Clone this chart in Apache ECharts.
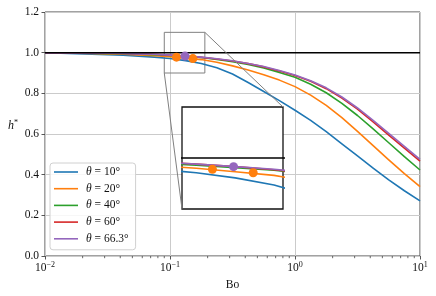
<!DOCTYPE html>
<html><head><meta charset="utf-8">
<script src="https://cdn.jsdelivr.net/npm/echarts@6/dist/echarts.min.js"></script>
<style>html,body{margin:0;padding:0;background:#fff}#c{width:436px;height:296px}</style>
</head><body><div id="c"></div>
<script>
const boValues = [0.01, 0.01334, 0.01778, 0.02371, 0.03162, 0.04217, 0.05623, 0.07499,
                  0.1, 0.1334, 0.1778, 0.2371, 0.3162, 0.4217, 0.5623, 0.7499,
                  1, 1.334, 1.778, 2.371, 3.162, 4.217, 5.623, 7.499, 10];
const h10 = [0.998, 0.997, 0.995, 0.993, 0.990, 0.987, 0.983, 0.978,
             0.971, 0.961, 0.947, 0.926, 0.895, 0.853, 0.809, 0.764,
             0.717, 0.667, 0.612, 0.552, 0.492, 0.432, 0.374, 0.321, 0.271];
const h20 = [0.998, 0.998, 0.997, 0.996, 0.994, 0.992, 0.989, 0.985,
             0.980, 0.973, 0.966, 0.953, 0.935, 0.915, 0.891, 0.865,
             0.833, 0.791, 0.741, 0.681, 0.613, 0.543, 0.473, 0.405, 0.341];
const h40 = [0.999, 0.999, 0.998, 0.997, 0.996, 0.995, 0.993, 0.990,
             0.986, 0.981, 0.976, 0.967, 0.956, 0.942, 0.925, 0.903,
             0.879, 0.845, 0.803, 0.751, 0.691, 0.625, 0.557, 0.489, 0.423];
const h60 = [0.999, 0.999, 0.998, 0.998, 0.997, 0.996, 0.994, 0.992,
             0.988, 0.983, 0.977, 0.969, 0.959, 0.946, 0.930, 0.910,
             0.888, 0.859, 0.823, 0.777, 0.722, 0.660, 0.595, 0.531, 0.467];
const h66 = [0.999, 0.999, 0.998, 0.998, 0.997, 0.996, 0.994, 0.992,
             0.988, 0.983, 0.978, 0.970, 0.960, 0.947, 0.932, 0.912,
             0.890, 0.862, 0.827, 0.782, 0.728, 0.667, 0.603, 0.539, 0.475];
const seriesNames = ['θ = 10°', 'θ = 20°', 'θ = 40°', 'θ = 60°', 'θ = 66.3°'];
const seriesValues = [h10, h20, h40, h60, h66];
const colors = ['#1f77b4', '#ff7f0e', '#2ca02c', '#d62728', '#9467bd'];
const refLineBo = [0.01, 10];
const refLineH = [1.0, 1.0];
const markerOrangeBo = [0.1127, 0.1524];
const markerOrangeH = [0.978, 0.971];
const markerPurpleBo = [0.1318];
const markerPurpleH = [0.983];
const minorTickBo = [0.02,0.03,0.04,0.05,0.06,0.07,0.08,0.09, 0.2,0.3,0.4,0.5,0.6,0.7,0.8,0.9, 2,3,4,5,6,7,8,9];
const yTickLabels = ['0.0','0.2','0.4','0.6','0.8','1.0','1.2'];
const insetBo = [0.09, 0.19];
const insetH = [0.9, 1.1];

const FONT = 'Liberation Serif';
const zip = (xs, ys) => xs.map((x, i) => [x, ys[i]]);

const chart = echarts.init(document.getElementById('c'), null, {renderer: 'canvas'});

function curveSeries(gi, z) {
  return seriesValues.map((vals, i) => ({
    type: 'line', name: seriesNames[i], xAxisIndex: gi, yAxisIndex: gi,
    data: zip(boValues, vals), smooth: false,
    symbol: 'none', showSymbol: false, clip: true, z: z,
    lineStyle: {color: colors[i], width: 1.6, join: 'round'}, itemStyle: {color: colors[i]}
  }));
}
function extraSeries(gi, z) {
  return [
    {type: 'line', xAxisIndex: gi, yAxisIndex: gi, data: zip(refLineBo, refLineH), symbol: 'none',
     lineStyle: {color: '#000', width: 1.5}, z: z, silent: true},
    {type: 'scatter', xAxisIndex: gi, yAxisIndex: gi, data: zip(markerOrangeBo, markerOrangeH),
     symbolSize: 9, itemStyle: {color: colors[1], opacity: 1}, z: z + 1, silent: true},
    {type: 'scatter', xAxisIndex: gi, yAxisIndex: gi, data: zip(markerPurpleBo, markerPurpleH),
     symbolSize: 9, itemStyle: {color: colors[4], opacity: 1}, z: z + 1, silent: true}
  ];
}

const series = [].concat(curveSeries(0, 2), extraSeries(0, 2));
series.push({type: 'line', xAxisIndex: 0, yAxisIndex: 0, data: [], z: 4, silent: true,
  markArea: {silent: true, itemStyle: {color: 'rgba(0,0,0,0)', borderColor: '#808080', borderWidth: 1},
    data: [[{coord: [insetBo[0], insetH[1]]}, {coord: [insetBo[1], insetH[0]]}]]}});
series.push({type: 'custom', xAxisIndex: 0, yAxisIndex: 0, data: minorTickBo.map(v => [v, 0]), clip: false, silent: true, z: 3,
  renderItem: (p, api) => {
    const pt = api.coord([api.value(0), api.value(1)]);
    return {type: 'line', shape: {x1: pt[0], y1: pt[1], x2: pt[0], y2: pt[1] + 2.2}, style: {stroke: '#444', lineWidth: 0.8}};
  }});
[].concat(curveSeries(1, 8), extraSeries(1, 8)).forEach(s => series.push(s));

const option = {
  animation: false,
  backgroundColor: '#fff',
  textStyle: {fontFamily: FONT},
  grid: [
    {left: 45, top: 12, width: 375, height: 244, show: true, borderColor: '#444', borderWidth: 1, backgroundColor: 'rgba(0,0,0,0)'},
    {left: 182, top: 107, width: 101, height: 102, show: true, borderColor: '#111', borderWidth: 1.3, backgroundColor: '#fff', z: 6}
  ],
  xAxis: [
    {type: 'log', logBase: 10, min: 0.01, max: 10, gridIndex: 0,
     name: 'Bo', nameLocation: 'middle', nameGap: 18,
     nameTextStyle: {fontFamily: FONT, fontSize: 11.5, color: '#111'},
     axisLine: {show: false},
     axisTick: {show: true, inside: false, length: 3.5, lineStyle: {color: '#444', width: 0.9}},
     splitLine: {show: true, lineStyle: {color: '#cbcbcb', width: 1}},
     axisLabel: {margin: 5, color: '#111', fontFamily: FONT,
       formatter: v => { const e = Math.round(Math.log10(v)); return '{b|10}{s|' + (e < 0 ? '−' + (-e) : e) + '}'; },
       rich: {b: {fontSize: 11.5, fontFamily: FONT, color: '#111', lineHeight: 14}, s: {fontSize: 8, fontFamily: FONT, color: '#111', verticalAlign: 'top', lineHeight: 9}}}},
    {type: 'log', logBase: 10, min: insetBo[0], max: insetBo[1], gridIndex: 1, z: 7,
     axisLine: {show: false}, axisTick: {show: false}, axisLabel: {show: false}, splitLine: {show: false}}
  ],
  yAxis: [
    {type: 'value', min: 0, max: 1.2, interval: 0.2, gridIndex: 0,
     name: '{i|h}{s|*}', nameLocation: 'middle', nameGap: 27, nameRotate: 0,
     nameTextStyle: {padding: [0, 0, 16, 0], rich: {i: {fontStyle: 'italic', fontSize: 12, fontFamily: FONT, color: '#111', lineHeight: 14}, s: {fontSize: 8, fontFamily: FONT, color: '#111', verticalAlign: 'top', lineHeight: 9}}},
     axisLine: {show: false},
     axisTick: {show: true, inside: false, length: 3.5, lineStyle: {color: '#444', width: 0.9}},
     splitLine: {show: true, lineStyle: {color: '#cbcbcb', width: 1}},
     axisLabel: {margin: 6, color: '#111', fontSize: 11.5, fontFamily: FONT,
       formatter: v => yTickLabels[Math.round(v / 0.2)]}},
    {type: 'value', min: insetH[0], max: insetH[1], gridIndex: 1, z: 7,
     axisLine: {show: false}, axisTick: {show: false}, axisLabel: {show: false}, splitLine: {show: false}}
  ],
  legend: {
    data: seriesNames, orient: 'vertical', left: 50, top: 163,
    padding: [3, 7, 5, 4], itemGap: 4.7, itemWidth: 24, itemHeight: 12,
    backgroundColor: 'rgba(255,255,255,0.85)', borderColor: '#d0d0d0', borderWidth: 1, borderRadius: 3,
    icon: 'path://M0,5 L24,5 L24,6.6 L0,6.6 Z',
    formatter: n => '{i|θ}{n|' + n.slice(1) + '}',
    textStyle: {fontFamily: FONT, fontSize: 11.5, color: '#111', padding: [0, 0, 0, 3], lineHeight: 12,
      rich: {i: {fontStyle: 'italic', fontFamily: FONT, fontSize: 11.5, color: '#111'}, n: {fontFamily: FONT, fontSize: 11.5, color: '#111'}}}
  },
  series: series
};
chart.setOption(option);

const p1 = chart.convertToPixel({gridIndex: 0}, [insetBo[0], insetH[0]]);
const q1 = chart.convertToPixel({gridIndex: 1}, [insetBo[0], insetH[0]]);
const p2 = chart.convertToPixel({gridIndex: 0}, [insetBo[1], insetH[1]]);
const q2 = chart.convertToPixel({gridIndex: 1}, [insetBo[1], insetH[1]]);
chart.setOption({graphic: [
  {type: 'line', z: 20, silent: true, shape: {x1: p1[0], y1: p1[1], x2: q1[0], y2: q1[1]}, style: {stroke: '#808080', lineWidth: 1}},
  {type: 'line', z: 20, silent: true, shape: {x1: p2[0], y1: p2[1], x2: q2[0], y2: q2[1]}, style: {stroke: '#808080', lineWidth: 1}}
]});
</script>
</body></html>
